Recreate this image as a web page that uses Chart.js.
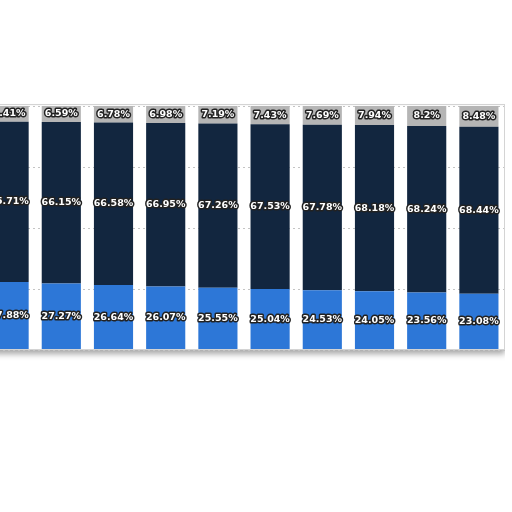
<!DOCTYPE html>
<html>
<head>
<meta charset="utf-8">
<script src="https://cdn.jsdelivr.net/npm/chart.js@4/dist/chart.umd.min.js"></script>
<style>
  html, body { margin: 0; padding: 0; background: #fff; overflow: hidden; }
  #wrap { position: absolute; left: -17px; top: 0; width: 522px; height: 512px; }
</style>
</head>
<body>
<div id="wrap"><canvas id="myChart"></canvas></div>
<script>
  // periods along the x axis (labels are cut off in the source picture)
  const categories = ["1", "2", "3", "4", "5", "6", "7", "8", "9", "10"];

  // bottom / middle / top shares, in percent
  const bottomShare = [27.88, 27.27, 26.64, 26.07, 25.55, 25.04, 24.53, 24.05, 23.56, 23.08];
  const middleShare = [65.71, 66.15, 66.58, 66.95, 67.26, 67.53, 67.78, 68.18, 68.24, 68.44];
  const topShare = [6.41, 6.59, 6.78, 6.98, 7.19, 7.43, 7.69, 7.94, 8.2, 8.48];

  const yTicks = [0, 25, 50, 75, 100];

  // white plot box with a soft shadow underneath
  const plotBox = {
    id: "plotBox",
    beforeDraw(chart) {
      const { ctx, chartArea: a } = chart;
      ctx.save();
      ctx.shadowColor = "rgba(0,0,0,0.35)";
      ctx.shadowBlur = 6;
      ctx.shadowOffsetY = 4;
      ctx.fillStyle = "#fff";
      ctx.fillRect(a.left, a.top, a.right - a.left, a.bottom - a.top);
      ctx.restore();
    },
    afterDatasetsDraw(chart) {
      const { ctx, chartArea: a } = chart;
      ctx.save();
      ctx.strokeStyle = "#d4d4d4";
      ctx.lineWidth = 1;
      ctx.strokeRect(a.left + 0.5, a.top - 1.5, a.right - a.left - 1, a.bottom - a.top + 1);
      ctx.restore();
    }
  };

  // outlined value labels in the middle of each segment
  const segmentLabels = {
    id: "segmentLabels",
    afterDatasetsDraw(chart) {
      const ctx = chart.ctx;
      ctx.save();
      ctx.font = "bold 9.5px 'DejaVu Sans'";
      ctx.textAlign = "center";
      ctx.textBaseline = "middle";
      ctx.lineJoin = "round";
      chart.data.datasets.forEach((ds, i) => {
        const meta = chart.getDatasetMeta(i);
        meta.data.forEach((bar, j) => {
          const y = (bar.y + bar.base) / 2;
          const text = ds.data[j] + "%";
          ctx.lineWidth = 3;
          ctx.strokeStyle = "#222";
          ctx.strokeText(text, bar.x, y);
          ctx.fillStyle = "#fff";
          ctx.fillText(text, bar.x, y);
        });
      });
      ctx.restore();
    }
  };

  new Chart(document.getElementById("myChart"), {
    type: "bar",
    data: {
      labels: categories,
      datasets: [
        { label: "bottom", data: bottomShare, backgroundColor: "#2d77d7" },
        { label: "middle", data: middleShare, backgroundColor: "#12263f" },
        { label: "top", data: topShare, backgroundColor: "#b5b5b5" }
      ]
    },
    options: {
      responsive: true,
      maintainAspectRatio: false,
      animation: false,
      layout: { padding: { top: 106, bottom: 162, left: 0, right: 0 } },
      datasets: { bar: { categoryPercentage: 0.75, barPercentage: 1, borderWidth: 0 } },
      plugins: { legend: { display: false }, tooltip: { enabled: false } },
      scales: {
        x: { stacked: true, display: false, grid: { display: false } },
        y: {
          stacked: true,
          min: 0,
          max: 100,
          afterBuildTicks: (axis) => { axis.ticks = yTicks.map((v) => ({ value: v })); },
          ticks: { display: false },
          border: { display: false, dash: [2, 3] },
          grid: { color: "#c4c4c4", lineWidth: 1, drawTicks: false }
        }
      }
    },
    plugins: [plotBox, segmentLabels]
  });
</script>
</body>
</html>
